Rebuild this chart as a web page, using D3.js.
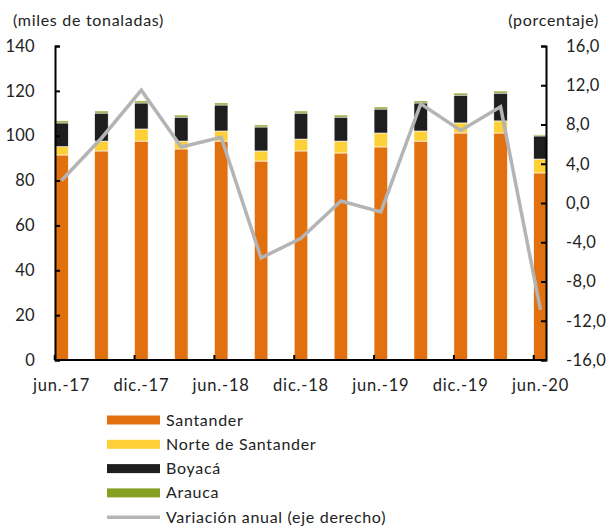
<!DOCTYPE html>
<html>
<head>
<meta charset="utf-8">
<script src="https://cdn.jsdelivr.net/npm/d3@7"></script>
<style>
  body { margin: 0; background: #fff; }
  text { font-family: Lato, "Open Sans", sans-serif; fill: #222; }
</style>
</head>
<body>
<script>
// tamaño del svg
const w = 610;
const h = 527;

// datos
const periodos = ["jun.-17", "sep.-17", "dic.-17", "mar.-18", "jun.-18", "sep.-18", "dic.-18",
  "mar.-19", "jun.-19", "sep.-19", "dic.-19", "mar.-20", "jun.-20"];
const santander = [91.4, 93.2, 97.6, 94.1, 97.6, 88.7, 93.2, 92.3, 95.0, 97.6, 101.2, 101.2, 83.4];
const norte = [3.7, 4.4, 5.4, 3.5, 4.5, 4.5, 5.3, 5.3, 6.2, 4.5, 4.5, 5.4, 6.2];
const boyaca = [10.6, 12.5, 11.6, 10.7, 11.6, 10.7, 11.6, 10.7, 10.7, 12.5, 12.4, 12.4, 10.3];
const arauca = [0.9, 0.9, 0.9, 0.9, 0.9, 0.9, 0.9, 0.9, 0.9, 0.9, 0.9, 0.9, 0.5];
const variacion = [2.3, 6.6, 11.5, 5.7, 6.7, -5.6, -3.6, 0.2, -0.9, 10.1, 7.4, 9.8, -10.9];

const ticksIzq = [0, 20, 40, 60, 80, 100, 120, 140];
const ticksDer = [-16, -12, -8, -4, 0, 4, 8, 12, 16];

const series = ["Santander", "Norte de Santander", "Boyacá", "Arauca"];
const colores = ["#e3700e", "#fdd038", "#1e1e1e", "#86a024"];
const colorLinea = "#b4b4b4";

// tabla para el stack
const tabla = periodos.map(function (p, i) {
  return {
    periodo: p,
    "Santander": santander[i],
    "Norte de Santander": norte[i],
    "Boyacá": boyaca[i],
    "Arauca": arauca[i],
  };
});

const svg = d3.select("body").append("svg").attr("width", w).attr("height", h);

// area del gráfico
const mIzq = 55;
const mDer = 546;
const mSup = 46;
const mInf = 360;

// escala x: los centros van de 61.5 a 540.5
const paso = (540.5 - 61.5) / 12;
const xScale = d3
  .scaleBand()
  .domain(periodos)
  .range([61.5 - paso / 2, 540.5 + paso / 2])
  .paddingInner(0.66)
  .paddingOuter(0.33);

const yScale = d3.scaleLinear().domain([0, 140]).range([mInf, mSup]);
const y2Scale = d3.scaleLinear().domain([-16, 16]).range([mInf, mSup]);

const stack = d3.stack().keys(series);
const capas = stack(tabla);

// barras apiladas
svg
  .append("g")
  .selectAll("g")
  .data(capas)
  .enter()
  .append("g")
  .attr("fill", function (d, i) {
    return colores[i];
  })
  .selectAll("rect")
  .data(function (d) {
    return d;
  })
  .enter()
  .append("rect")
  .attr("x", function (d) {
    return xScale(d.data.periodo);
  })
  .attr("width", xScale.bandwidth())
  .attr("y", function (d) {
    return yScale(d[1]);
  })
  .attr("height", function (d) {
    return yScale(d[0]) - yScale(d[1]);
  })
  .attr("stroke", "#fff")
  .attr("stroke-width", 0.6);

// línea de variación anual (eje derecho)
const linea = d3
  .line()
  .x(function (d, i) {
    return xScale(periodos[i]) + xScale.bandwidth() / 2;
  })
  .y(function (d) {
    return y2Scale(d);
  });

svg
  .append("path")
  .datum(variacion)
  .attr("d", linea)
  .attr("fill", "none")
  .attr("stroke", colorLinea)
  .attr("stroke-width", 3.5)
  .attr("stroke-linejoin", "miter");

// ejes
const yAxis = d3.axisLeft(yScale).tickValues(ticksIzq).tickSize(-5).tickPadding(20);
const y2Axis = d3
  .axisRight(y2Scale)
  .tickValues(ticksDer)
  .tickSize(-5)
  .tickPadding(20)
  .tickFormat(function (d) {
    return d3.format(".1f")(d).replace(".", ",").replace("−", "-");
  });

const gy = svg.append("g").attr("transform", "translate(" + mIzq + ",0)").call(yAxis);
const gy2 = svg.append("g").attr("transform", "translate(" + mDer + ",0)").call(y2Axis);

[gy, gy2].forEach(function (g) {
  g.select(".domain").attr("stroke", "#000").attr("stroke-width", 2);
  g.selectAll(".tick line").attr("stroke", "#000").attr("stroke-width", 2);
  g.selectAll(".tick text").attr("font-size", "16.5px").attr("fill", "#222")
    .attr("font-family", "Lato, sans-serif").attr("letter-spacing", "0.3px");
});

// eje x: marcas cada dos periodos, en el borde izquierdo de la barra
svg
  .append("line")
  .attr("x1", mIzq)
  .attr("x2", mDer)
  .attr("y1", mInf)
  .attr("y2", mInf)
  .attr("stroke", "#000")
  .attr("stroke-width", 2);

const etiquetas = periodos.filter(function (d, i) {
  return i % 2 === 0;
});

svg
  .append("g")
  .selectAll("line")
  .data(etiquetas)
  .enter()
  .append("line")
  .attr("x1", function (d) {
    return xScale(d);
  })
  .attr("x2", function (d) {
    return xScale(d);
  })
  .attr("y1", mInf)
  .attr("y2", mInf - 5)
  .attr("stroke", "#000")
  .attr("stroke-width", 2);

svg
  .append("g")
  .selectAll("text")
  .data(etiquetas)
  .enter()
  .append("text")
  .attr("x", function (d) {
    return xScale(d) + xScale.bandwidth() / 2;
  })
  .attr("y", 391)
  .attr("text-anchor", "middle")
  .attr("font-size", "16.5px")
  .attr("letter-spacing", "0.8px")
  .text(function (d) {
    return d;
  });

// títulos de los ejes
svg.append("text").attr("x", 13).attr("y", 26).attr("font-size", "16px")
  .attr("letter-spacing", "0.7px").text("(miles de tonaladas)");
svg.append("text").attr("x", 599).attr("y", 26).attr("text-anchor", "end").attr("font-size", "16px")
  .attr("letter-spacing", "0.7px").text("(porcentaje)");

// leyenda
const leyenda = svg.append("g");
const filas = series.concat(["Variación anual (eje derecho)"]);

filas.forEach(function (nombre, i) {
  const yc = 420 + i * 24.3;
  if (i < 4) {
    leyenda
      .append("rect")
      .attr("x", 107)
      .attr("y", yc - 4.5)
      .attr("width", 53)
      .attr("height", 9)
      .attr("fill", colores[i]);
  } else {
    leyenda
      .append("line")
      .attr("x1", 107)
      .attr("x2", 160)
      .attr("y1", yc)
      .attr("y2", yc)
      .attr("stroke", colorLinea)
      .attr("stroke-width", 3.5);
  }
  leyenda
    .append("text")
    .attr("x", 166)
    .attr("y", yc + 5.5)
    .attr("font-size", "16px")
    .attr("letter-spacing", "0.7px")
    .text(nombre);
});
</script>
</body>
</html>
